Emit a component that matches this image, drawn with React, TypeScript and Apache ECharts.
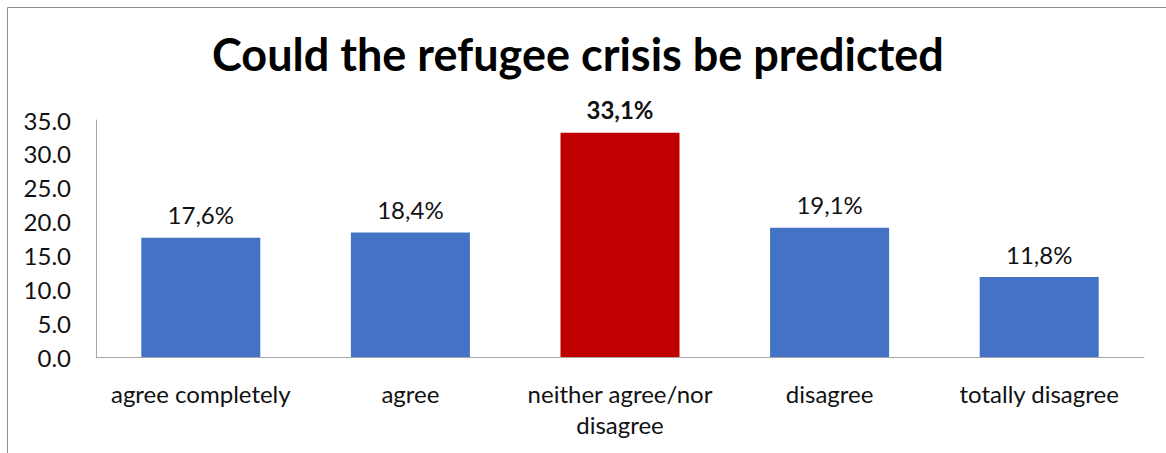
import React, { useEffect, useRef } from "react";
import * as echarts from "echarts";

const titleText = "Could the refugee crisis be predicted";
const categories = [
  "agree completely",
  "agree",
  "neither agree/nor\ndisagree",
  "disagree",
  "totally disagree",
];
const values = [17.6, 18.4, 33.1, 19.1, 11.8];
const highlightIndex = 2;
const yMin = 0;
const yMax = 35;
const yInterval = 5;

const FONT = "Lato, 'Open Sans', sans-serif";

export default function App() {
  const ref = useRef<HTMLDivElement>(null);
  useEffect(() => {
    if (!ref.current) return;
    const chart = echarts.init(ref.current, undefined, { renderer: "svg" });
    chart.setOption({
      animation: false,
      backgroundColor: "#ffffff",
      textStyle: { fontFamily: FONT },
      title: {
        text: titleText,
        left: 212,
        top: 31,
        padding: 0,
        textStyle: { fontFamily: FONT, fontSize: 45, fontWeight: "bold", color: "#000" },
      },
      graphic: [
        {
          type: "rect",
          shape: { x: 7.5, y: 7.5, width: 1200, height: 500 },
          style: { fill: "none", stroke: "#8f8f8f", lineWidth: 1 },
          silent: true,
        },
      ],
      grid: { left: 96, right: 22, top: 120, bottom: 96, containLabel: false },
      xAxis: {
        type: "category",
        data: categories,
        axisLine: { lineStyle: { color: "#a6a6a6", width: 1 } },
        axisTick: { show: false },
        axisLabel: {
          fontFamily: FONT,
          fontSize: 24,
          color: "#111",
          margin: 21,
          lineHeight: 31,
          interval: 0,
        },
      },
      yAxis: {
        type: "value",
        min: yMin,
        max: yMax,
        interval: yInterval,
        splitLine: { show: false },
        axisLine: { show: true, lineStyle: { color: "#a6a6a6", width: 1 } },
        axisTick: { show: false },
        axisLabel: {
          fontFamily: FONT,
          fontSize: 24,
          color: "#111",
          margin: 25,
          formatter: (v: number) => v.toFixed(1),
        },
      },
      series: [
        {
          type: "bar",
          data: values.map((v, i) => ({
            value: v,
            itemStyle: { color: i === highlightIndex ? "#c00000" : "#4472c4" },
            label: i === highlightIndex ? { fontWeight: "bold" } : undefined,
          })),
          barWidth: 119,
          label: {
            show: true,
            position: "top",
            distance: 11,
            fontFamily: FONT,
            fontSize: 24,
            color: "#111",
            formatter: (p: any) => p.value.toFixed(1).replace(".", ",") + "%",
          },
        },
      ],
    });
    return () => chart.dispose();
  }, []);
  return (
    <div
      ref={ref}
      style={{ position: "fixed", left: 0, top: 0, width: 1166, height: 453 }}
    />
  );
}
